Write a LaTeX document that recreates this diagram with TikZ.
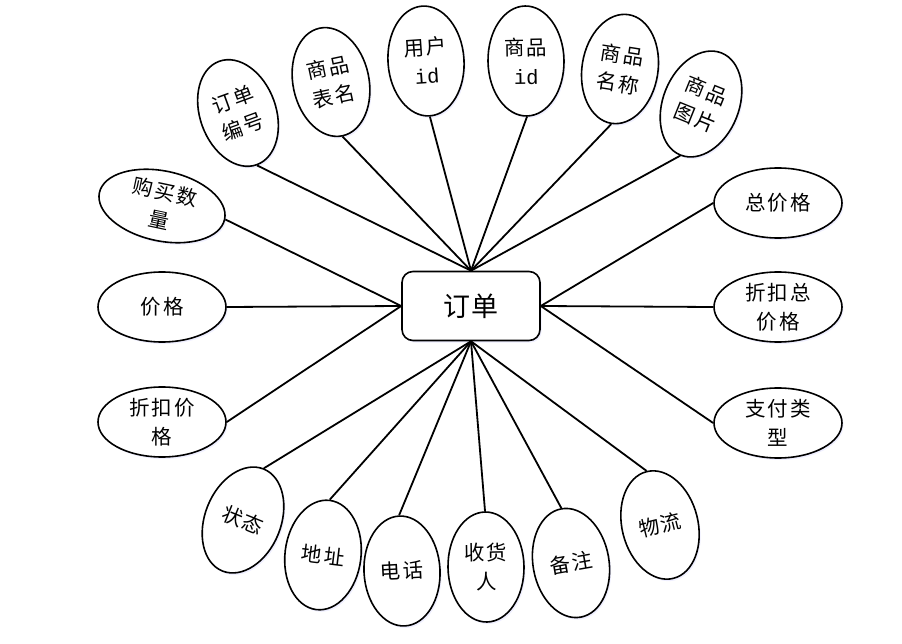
\documentclass[tikz,border=0pt]{standalone}
\usepackage{fontspec}
\newfontfamily\cjk[LetterSpace=10]{Noto Sans CJK SC}
\newfontfamily\cjkc[LetterSpace=4]{Noto Sans CJK SC}
\newfontfamily\monofnt{Liberation Mono}
\usetikzlibrary{shapes.geometric,shadows}
\tikzset{
  attr/.style={ellipse, draw, line width=1.6pt, fill=white, inner sep=0pt, align=center,
    font=\cjk\fontsize{20.5}{29}\selectfont,
    drop shadow={shadow xshift=1.5pt, shadow yshift=-2pt, fill=blue!25, opacity=0.25}},
  vattr/.style={attr, minimum width=76pt, minimum height=110pt},
  hattr/.style={attr, minimum width=128pt, minimum height=70pt},
  link/.style={line width=1.8pt},
  entity/.style={rectangle, rounded corners=11pt, draw, line width=1.6pt, fill=white,
    minimum width=138pt, minimum height=69pt, font=\cjkc\fontsize{27}{30}\selectfont,
    drop shadow={shadow xshift=1.5pt, shadow yshift=-2pt, fill=blue!25, opacity=0.25}}
}
\begin{document}
\begin{tikzpicture}[x=1pt,y=-1pt]
\useasboundingbox (0,0) rectangle (902,644);
\node[entity] (ord) at (471,306) {订单};
% top
\node[vattr, rotate=20] (ddbh) at (238,113) {订单\\编号};
\node[vattr, rotate=12] (spbm) at (331,82) {商品\\表名};
\node[vattr, rotate=4] (yhid) at (426,61) {用户\\{\monofnt id}};
\node[vattr, rotate=1] (spid) at (526,61) {商品\\{\monofnt id}};
\node[vattr, rotate=-9] (spmc) at (620,69) {商品\\名称};
\node[vattr, rotate=-22] (sptp) at (701,104) {商品\\图片};
% left
\node[hattr, rotate=-12] (gmsl) at (162,206) {购买数\\量};
\node[hattr] (jg) at (162,307) {价格};
\node[hattr] (zkjg) at (162,422) {折扣价\\格};
% right
\node[hattr] (zjg) at (778,203) {总价格};
\node[hattr] (zkzjg) at (778,307) {折扣总\\价格};
\node[hattr] (zflx) at (778,423) {支付类\\型};
% bottom
\node[vattr, rotate=-22] (zt) at (243,520) {状态};
\node[vattr, rotate=-7] (dz) at (323,555) {地址};
\node[vattr, rotate=3] (dh) at (402,571) {电话};
\node[vattr, rotate=1] (shr) at (486,567) {收货\\人};
\node[vattr, rotate=10] (bz) at (571,563) {备注};
\node[vattr, rotate=14] (wl) at (660,525) {物流};
% connectors
\foreach \n in {ddbh,spbm,yhid,spid,spmc,sptp} \draw[link] (ord.north) -- (\n.south);
\foreach \n in {gmsl,jg,zkjg} \draw[link] (ord.west) -- (\n.east);
\foreach \n in {zjg,zkzjg,zflx} \draw[link] (ord.east) -- (\n.west);
\foreach \n in {zt,dz,dh,shr,bz,wl} \draw[link] (ord.south) -- (\n.north);
\end{tikzpicture}
\end{document}
